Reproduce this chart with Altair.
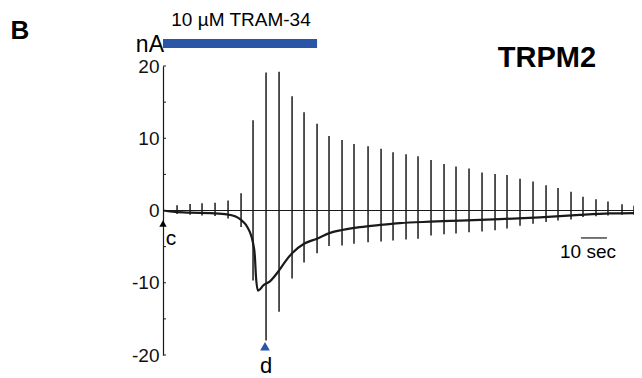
import altair as alt
import pandas as pd

# Time (s) of each voltage ramp, and the ramp current extremes (nA)
spike_t = [5.4, 10.4, 15.0, 20.0, 25.0, 30.0, 34.6, 39.6, 44.6, 49.6, 54.2, 59.2,
           63.8, 68.8, 73.4, 78.8, 83.8, 88.4, 93.4, 98.0, 103.0, 108.0, 112.6,
           117.6, 122.6, 127.6, 132.2, 137.2, 142.2, 147.2, 151.8, 156.8, 161.4,
           166.4, 171.0, 176.4, 181.0]
spike_hi = [0.73, 0.9, 1.0, 1.06, 1.4, 2.4, 12.5, 19.1, 19.2, 15.8, 13.6, 12.0,
            10.3, 9.75, 9.2, 8.9, 8.55, 8.05, 7.8, 7.5, 7.0, 6.45, 6.1, 5.8, 5.25,
            5.05, 4.9, 4.4, 4.0, 3.5, 3.1, 2.6, 1.9, 1.55, 1.25, 0.87, 0.65]
spike_lo = [-0.5, -0.6, -0.7, -0.75, -1.1, -2.3, -9.7, -18.0, -14.0, -9.4, -7.2,
            -5.9, -4.9, -4.85, -4.6, -4.4, -4.3, -4.15, -4.0, -3.9, -3.45, -3.3,
            -3.2, -3.0, -2.9, -2.75, -2.5, -2.1, -1.85, -1.6, -1.4, -1.25, -0.9,
            -0.8, -0.7, -0.6, -0.6]

# Holding current trace
trace_t = [0.0, 4.6, 10.4, 18.0, 23.8, 27.7, 30.0, 31.9, 33.4, 34.6, 35.3, 35.7,
           36.5, 37.3, 38.4, 41.1, 44.6, 46.9, 49.6, 54.2, 59.2, 64.2, 68.8, 75.7,
           83.4, 91.0, 102.6, 114.1, 129.5, 144.8, 160.2, 171.7, 181.0]
trace_i = [0.0, -0.2, -0.3, -0.35, -0.5, -0.8, -1.3, -2.0, -3.0, -4.5, -6.3, -9.0,
           -11.1, -10.9, -10.4, -9.8, -8.3, -7.1, -5.9, -4.6, -3.9, -3.1, -2.7, -2.3,
           -2.0, -1.75, -1.55, -1.4, -1.2, -0.95, -0.6, -0.4, -0.35]

y_ticks = [-20, -15, -10, -5, 0, 5, 10, 15, 20]
drug_start, drug_end = 0.0, 59.2
scalebar_start, scalebar_end = 160.6, 170.6

FONT = "Liberation Sans"
BLUE = "#2b55a6"
INK = "#1a1a1a"

W, H = 471, 289
xs = alt.Scale(domain=[0, 181], nice=False, zero=False)
ys = alt.Scale(domain=[-20, 20], nice=False)

spikes = pd.DataFrame({"t": spike_t, "hi": spike_hi, "lo": spike_lo})
trace = pd.DataFrame({"t": trace_t, "i": trace_i})
ticks = pd.DataFrame({"v": y_ticks})

axis_layer = alt.Chart(ticks).mark_rule(color=INK, strokeWidth=1).encode(
    y=alt.Y("v:Q", scale=ys, axis=alt.Axis(values=y_ticks, title=None, ticks=False,
                                          labelFontSize=19, labelFont=FONT,
                                          labelExpr="'' + datum.value",
                                          labelColor="#111", labelPadding=4,
                                          domainColor=INK, domainWidth=1.2,
                                          grid=False)),
    x=alt.value(0), x2=alt.value(3),
)

zero_line = alt.Chart(ticks).mark_rule(color=INK, strokeWidth=1).encode(
    y=alt.datum(0, scale=ys), x=alt.value(0), x2=alt.value(W)
)

spike_layer = alt.Chart(spikes).mark_rule(color=INK, strokeWidth=1.5, clip=True).encode(
    x=alt.X("t:Q", scale=xs, axis=None),
    y=alt.Y("lo:Q", scale=ys),
    y2="hi:Q",
)

trace_layer = alt.Chart(trace).mark_line(color=INK, strokeWidth=2.2, clip=True,
                                         interpolate="monotone").encode(
    x=alt.X("t:Q", scale=xs, axis=None),
    y=alt.Y("i:Q", scale=ys),
)

drug_bar = alt.Chart(pd.DataFrame({"a": [drug_start], "b": [drug_end]})).mark_rect(
    color=BLUE).encode(
    x=alt.X("a:Q", scale=xs, axis=None), x2="b:Q",
    y=alt.value(-27), y2=alt.value(-18),
)

scalebar = alt.Chart(pd.DataFrame({"a": [scalebar_start], "b": [scalebar_end]})).mark_rule(
    color=INK, strokeWidth=1.2).encode(
    x=alt.X("a:Q", scale=xs, axis=None), x2="b:Q",
    y=alt.datum(-3.8, scale=ys),
)

def label(txt, x, y, size, bold=False, color="#000", align="center"):
    return alt.Chart(pd.DataFrame({"s": [txt]})).mark_text(
        font=FONT, fontSize=size, fontWeight="bold" if bold else "normal",
        color=color, align=align, baseline="middle").encode(
        text="s:N", x=alt.value(x), y=alt.value(y))

tri_c = alt.Chart(pd.DataFrame({"t": [0.0], "v": [-1.8]})).mark_point(
    shape="triangle-up", filled=True, color="#000", size=55, opacity=1).encode(
    x=alt.X("t:Q", scale=xs, axis=None), y=alt.Y("v:Q", scale=ys))

tri_d = alt.Chart(pd.DataFrame({"t": [39.2], "v": [-18.8]})).mark_point(
    shape="triangle-up", filled=True, color=BLUE, size=95, opacity=1).encode(
    x=alt.X("t:Q", scale=xs, axis=None), y=alt.Y("v:Q", scale=ys))

chart = alt.layer(
    axis_layer, zero_line, trace_layer, spike_layer, drug_bar, scalebar,
    tri_c, tri_d,
    label("B", -143, -35, 26, bold=True),
    label("10 µM TRAM-34", 78, -46, 19),
    label("nA", 1, -21, 23, align="right"),
    label("TRPM2", 384, -8, 29, bold=True),
    label("c", 8, 173, 21),
    label("d", 103, 300, 22),
    label("10 sec", 425, 186, 19),
).properties(
    width=W, height=H,
    autosize=alt.AutoSizeParams(type="none"),
    padding={"left": 155, "top": 58, "right": 0, "bottom": 22},
).configure(background="white").configure_view(stroke=None)

chart.save("out.html", embed_options={"renderer": "svg", "actions": False})
